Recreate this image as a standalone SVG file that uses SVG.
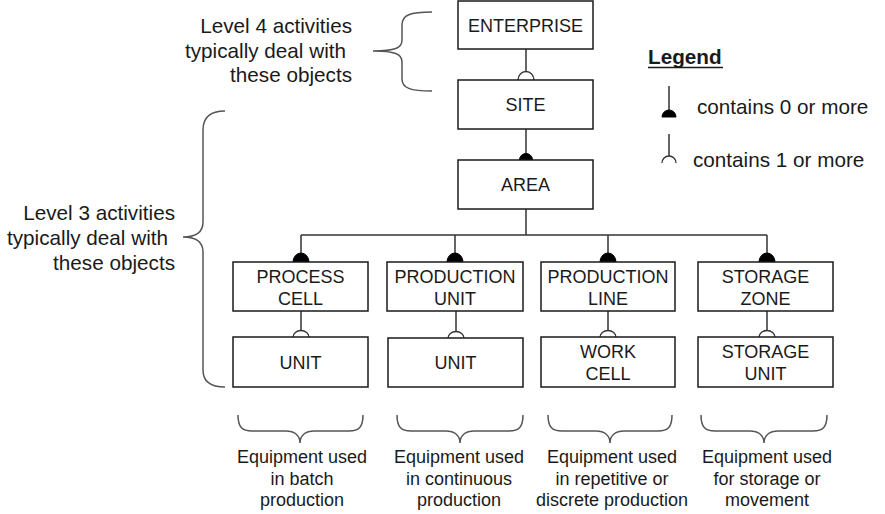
<svg xmlns="http://www.w3.org/2000/svg" width="885" height="514" viewBox="0 0 885 514">
<style>
.box{fill:#fff;stroke:#1a1a1a;stroke-width:1.5}
.t{font-family:"Liberation Sans",Arial,sans-serif;font-size:18px;fill:#1a1a1a;text-anchor:middle}
.lt{font-family:"Liberation Sans",Arial,sans-serif;font-size:20.7px;fill:#1a1a1a}
.ln{stroke:#333;stroke-width:1.5;fill:none}
.fd{fill:#000;stroke:#000;stroke-width:1}
.od{fill:#fff;stroke:#333;stroke-width:1.3}
.br{fill:none;stroke:#555;stroke-width:1.5}
</style>
<rect width="885" height="514" fill="#fff"/>
<g id="connectors">
<line class="ln" x1="526" y1="49" x2="526" y2="72"/>
<path class="od" d="M518,80 A8,8.5 0 0 1 534,80"/>
<line class="ln" x1="526" y1="129" x2="526" y2="154"/>
<path class="fd" d="M519.5,160 A6.5,6.5 0 0 1 532.5,160 Z"/>
<line class="ln" x1="526" y1="209" x2="526" y2="235"/>
<line class="ln" x1="301" y1="235" x2="767" y2="235"/>
<line class="ln" x1="301" y1="235" x2="301" y2="255"/>
<line class="ln" x1="455" y1="235" x2="455" y2="255"/>
<line class="ln" x1="608" y1="235" x2="608" y2="255"/>
<line class="ln" x1="767" y1="235" x2="767" y2="255"/>
<path class="fd" d="M293,262 A8,9 0 0 1 309,262 Z"/>
<path class="fd" d="M447,262 A8,9 0 0 1 463,262 Z"/>
<path class="fd" d="M600,262 A8,9 0 0 1 616,262 Z"/>
<path class="fd" d="M759,262 A8,9 0 0 1 775,262 Z"/>
<line class="ln" x1="301" y1="311" x2="301" y2="331"/>
<line class="ln" x1="456" y1="311" x2="456" y2="332"/>
<line class="ln" x1="608" y1="311" x2="608" y2="331"/>
<line class="ln" x1="767" y1="311" x2="767" y2="331"/>
<path class="od" d="M293,337 A8,6.5 0 0 1 309,337"/>
<path class="od" d="M448,338 A8,6.5 0 0 1 464,338"/>
<path class="od" d="M600,337 A8,6.5 0 0 1 616,337"/>
<path class="od" d="M759,337 A8,6.5 0 0 1 775,337"/>
</g>
<g id="enterprise"><rect class="box" x="458" y="1" width="135" height="48"/><text class="t" x="525.5" y="32">ENTERPRISE</text></g>
<g id="site"><rect class="box" x="458" y="80" width="135" height="49"/><text class="t" x="525.5" y="111">SITE</text></g>
<g id="area"><rect class="box" x="458" y="160" width="135" height="49"/><text class="t" x="525.5" y="191">AREA</text></g>
<g id="process-cell"><rect class="box" x="233" y="262" width="135" height="49"/><text class="t" x="300.5" y="283">PROCESS</text><text class="t" x="300.5" y="305">CELL</text></g>
<g id="production-unit"><rect class="box" x="387" y="262" width="136" height="49"/><text class="t" x="455" y="283">PRODUCTION</text><text class="t" x="455" y="305">UNIT</text></g>
<g id="production-line"><rect class="box" x="541" y="262" width="134" height="49"/><text class="t" x="608" y="283">PRODUCTION</text><text class="t" x="608" y="305">LINE</text></g>
<g id="storage-zone"><rect class="box" x="698" y="262" width="135" height="49"/><text class="t" x="765.5" y="283">STORAGE</text><text class="t" x="765.5" y="305">ZONE</text></g>
<g id="unit-1"><rect class="box" x="233" y="337" width="135" height="50"/><text class="t" x="300.5" y="369">UNIT</text></g>
<g id="unit-2"><rect class="box" x="388" y="338" width="135" height="49"/><text class="t" x="455.5" y="369">UNIT</text></g>
<g id="work-cell"><rect class="box" x="541" y="337" width="134" height="50"/><text class="t" x="608" y="358">WORK</text><text class="t" x="608" y="380">CELL</text></g>
<g id="storage-unit"><rect class="box" x="698" y="337" width="135" height="50"/><text class="t" x="765.5" y="358">STORAGE</text><text class="t" x="765.5" y="380">UNIT</text></g>
<g id="legend">
<text class="lt" x="648" y="64" font-weight="bold">Legend</text>
<line x1="648" y1="67.5" x2="723" y2="67.5" stroke="#1a1a1a" stroke-width="1.5"/>
<line class="ln" x1="669" y1="86" x2="669" y2="111"/>
<path class="fd" d="M662,117 A7,7 0 0 1 676,117 Z"/>
<text class="lt" x="697" y="114">contains 0 or more</text>
<line class="ln" x1="669" y1="134" x2="669" y2="156"/>
<path class="od" d="M662,163 A7,7 0 0 1 676,163"/>
<text class="lt" x="693" y="167">contains 1 or more</text>
</g>
<g id="level4">
<path class="br" d="M432,12 C410,12 402,15 402,25 L402,40 C402,48 395,51 373,51 C395,51 402,54 402,62 L402,79 C402,88 410,91 432,91"/>
<text class="lt" x="352" y="33" text-anchor="end">Level 4 activities</text>
<text class="lt" x="346" y="58" text-anchor="end">typically deal with</text>
<text class="lt" x="352" y="82" text-anchor="end">these objects</text>
</g>
<g id="level3">
<path class="br" d="M225,111 C210,111 203,117 203,130 L203,222 C203,232 196,237 183,237 C196,237 203,242 203,252 L203,370 C203,381 210,387 225,387"/>
<text class="lt" x="175" y="220" text-anchor="end">Level 3 activities</text>
<text class="lt" x="168" y="245" text-anchor="end">typically deal with</text>
<text class="lt" x="175" y="270" text-anchor="end">these objects</text>
</g>
<g id="equip-batch">
<path class="br" d="M238,415 C238,427 242,431 252,431 L286,431 C294,431 300,435 300,443 C300,435 306,431 314,431 L349,431 C359,431 363,427 363,415"/>
<text class="t" x="302" y="463">Equipment used</text><text class="t" x="302" y="485">in batch</text><text class="t" x="302" y="506">production</text>
</g>
<g id="equip-continuous">
<path class="br" d="M397,415 C397,427 401,431 411,431 L446,431 C454,431 460,435 460,443 C460,435 466,431 474,431 L509,431 C519,431 523,427 523,415"/>
<text class="t" x="459" y="463">Equipment used</text><text class="t" x="459" y="485">in continuous</text><text class="t" x="459" y="506">production</text>
</g>
<g id="equip-discrete">
<path class="br" d="M548,415 C548,427 552,431 562,431 L596,431 C604,431 610,435 610,443 C610,435 616,431 624,431 L658,431 C668,431 672,427 672,415"/>
<text class="t" x="612" y="463">Equipment used</text><text class="t" x="612" y="485">in repetitive or</text><text class="t" x="612" y="506">discrete production</text>
</g>
<g id="equip-storage">
<path class="br" d="M701,415 C701,427 705,431 715,431 L750,431 C758,431 764,435 764,443 C764,435 770,431 778,431 L813,431 C823,431 827,427 827,415"/>
<text class="t" x="767" y="463">Equipment used</text><text class="t" x="767" y="485">for storage or</text><text class="t" x="767" y="506">movement</text>
</g>
</svg>
